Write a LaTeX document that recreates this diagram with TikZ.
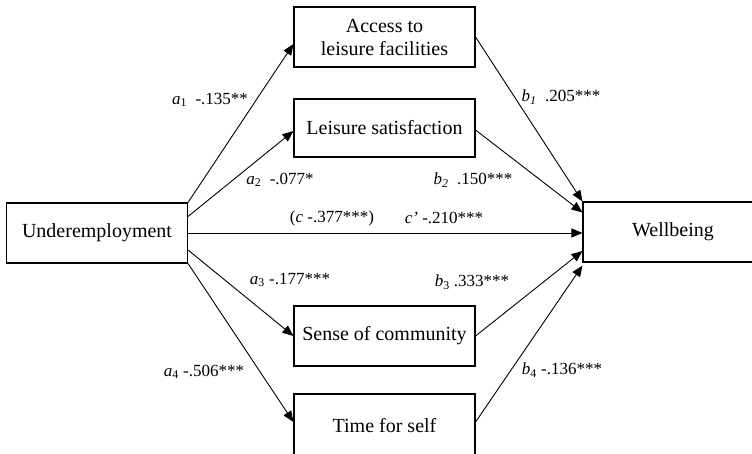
\documentclass[tikz,border=0pt]{standalone}
\usepackage{fontspec}
\setmainfont{Liberation Serif}
\usetikzlibrary{arrows.meta, calc}

\begin{document}
\begin{tikzpicture}[
    x=1pt, y=-1pt,
    >={Triangle[length=11pt, width=9pt]},
    vbox/.style={draw, line width=1.1pt, minimum width=181pt, minimum height=60pt,
                 inner sep=0pt, align=center, font=\fontsize{20}{23}\selectfont},
    pathlbl/.style={inner sep=0pt, font=\fontsize{17}{20}\selectfont},
    link/.style={->, line width=0.9pt}
  ]
  \useasboundingbox (0,0) rectangle (752,453);
  \clip (0,0) rectangle (752,453);

  % predictor and outcome
  \node[vbox] (under) at (97, 233) {Underemployment};
  \node[vbox, minimum width=200pt] (well) at (683, 232) {Wellbeing\hspace*{20pt}};

  % mediators
  \node[vbox] (access) at (384.5, 37) {Access to\\leisure facilities};
  \node[vbox, minimum height=58pt] (leis) at (384.5, 128) {Leisure satisfaction};
  \node[vbox] (sense) at (384.5, 336) {Sense of community};
  \node[vbox, minimum height=64pt] (time) at (384.5, 426) {Time for self};

  % a paths
  \draw[link] (under.north east) -- ($(access.west)+(0,7)$);
  \draw[link] ($(under.north east)+(0,14)$) -- ($(leis.west)+(0,3)$);
  \draw[link] ($(under.east)+(0,17)$) -- (sense.west);
  \draw[link] (under.south east) -- ($(time.west)+(0,-4)$);

  % direct path
  \draw[link] (under.east) -- (under.east -| well.west);

  % b paths
  \draw[link] (access.east) -- (well.north west);
  \draw[link] ($(leis.east)+(0,2)$) -- ($(well.north west)+(0,11)$);
  \draw[link] (sense.east) -- ($(well.west)+(0,19)$);
  \draw[link] ($(time.east)+(0,-4)$) -- ($(well.south west)+(0,3)$);

  % coefficients
  \node[pathlbl] (la1) at (210, 100) {\textit{a}\textsubscript{1}\enspace-.135**};
  \node[pathlbl] (la2) at (280, 180) {\textit{a}\textsubscript{2}\enspace-.077*};
  \node[pathlbl] (la3) at (290, 280) {\textit{a}\textsubscript{3} -.177***};
  \node[pathlbl] (la4) at (204, 372) {\textit{a}\textsubscript{4} -.506***};
  \node[pathlbl] (lc) at (332, 218) {(\textit{c} -.377***)};
  \node[pathlbl] (lcp) at (444, 218) {\textit{c’} -.210***};
  \node[pathlbl] (lb1) at (561, 97) {\textit{b}\textsubscript{\textit{1}}\enspace.205***};
  \node[pathlbl] (lb2) at (473, 180) {\textit{b}\textsubscript{\textit{2}}\enspace.150***};
  \node[pathlbl] (lb3) at (472, 282) {\textit{b}\textsubscript{3} .333***};
  \node[pathlbl] (lb4) at (562, 370) {\textit{b}\textsubscript{4} -.136***};
\end{tikzpicture}
\end{document}
